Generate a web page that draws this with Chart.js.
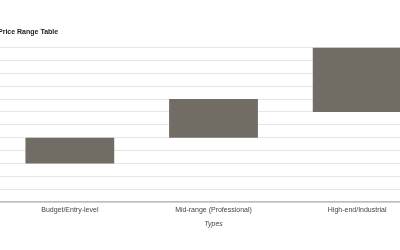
<!DOCTYPE html>
<html>
<head>
<meta charset="utf-8">
<script src="https://cdn.jsdelivr.net/npm/chart.js@4/dist/chart.umd.min.js"></script>
<style>
  html, body { margin: 0; padding: 0; width: 400px; height: 250px; overflow: hidden; background: #fff; }
  #wrap { position: absolute; left: -2px; top: 0; width: 431px; height: 250px; }
</style>
</head>
<body>
<div id="wrap"><canvas id="c"></canvas></div>
<script>
const categories = ["Budget/Entry-level", "Mid-range (Professional)", "High-end/Industrial"];
const priceLow = [3000, 5000, 7000];
const priceHigh = [5000, 8000, 12000];
const chartTitle = "Price Range Table";
const xAxisTitle = "Types";

const ranges = categories.map((c, i) => [priceLow[i], priceHigh[i]]);

new Chart(document.getElementById('c'), {
  type: 'bar',
  data: {
    labels: categories,
    datasets: [{
      label: 'Price Range',
      data: ranges,
      backgroundColor: '#716c64',
      borderWidth: 0,
      categoryPercentage: 1,
      barPercentage: 0.618
    }]
  },
  options: {
    responsive: true,
    maintainAspectRatio: false,
    animation: false,
    layout: { padding: { top: 17.5, bottom: 18, left: 0, right: 0 } },
    plugins: {
      legend: { display: false },
      tooltip: { enabled: false },
      title: {
        display: true,
        text: chartTitle,
        align: 'start',
        color: '#222',
        font: { family: 'Liberation Sans, Arial, sans-serif', size: 7, weight: 'bold' },
        padding: { top: 10, bottom: 11.5 }
      }
    },
    scales: {
      x: {
        grid: { display: false, drawTicks: false },
        border: { display: true, color: '#bdbdbd', width: 1.5 },
        ticks: { color: '#444', font: { family: 'Liberation Sans, Arial, sans-serif', size: 7 }, padding: 4, maxRotation: 0 },
        title: { display: true, text: xAxisTitle, color: '#444', font: { family: 'Liberation Sans, Arial, sans-serif', size: 7, style: 'italic' }, padding: { top: 1, bottom: 4 } }
      },
      y: {
        min: 0,
        max: 12000,
        ticks: { display: false, stepSize: 1000 },
        grid: { color: '#e6e6e6', drawTicks: false },
        border: { display: false }
      }
    }
  }
});
</script>
</body>
</html>
